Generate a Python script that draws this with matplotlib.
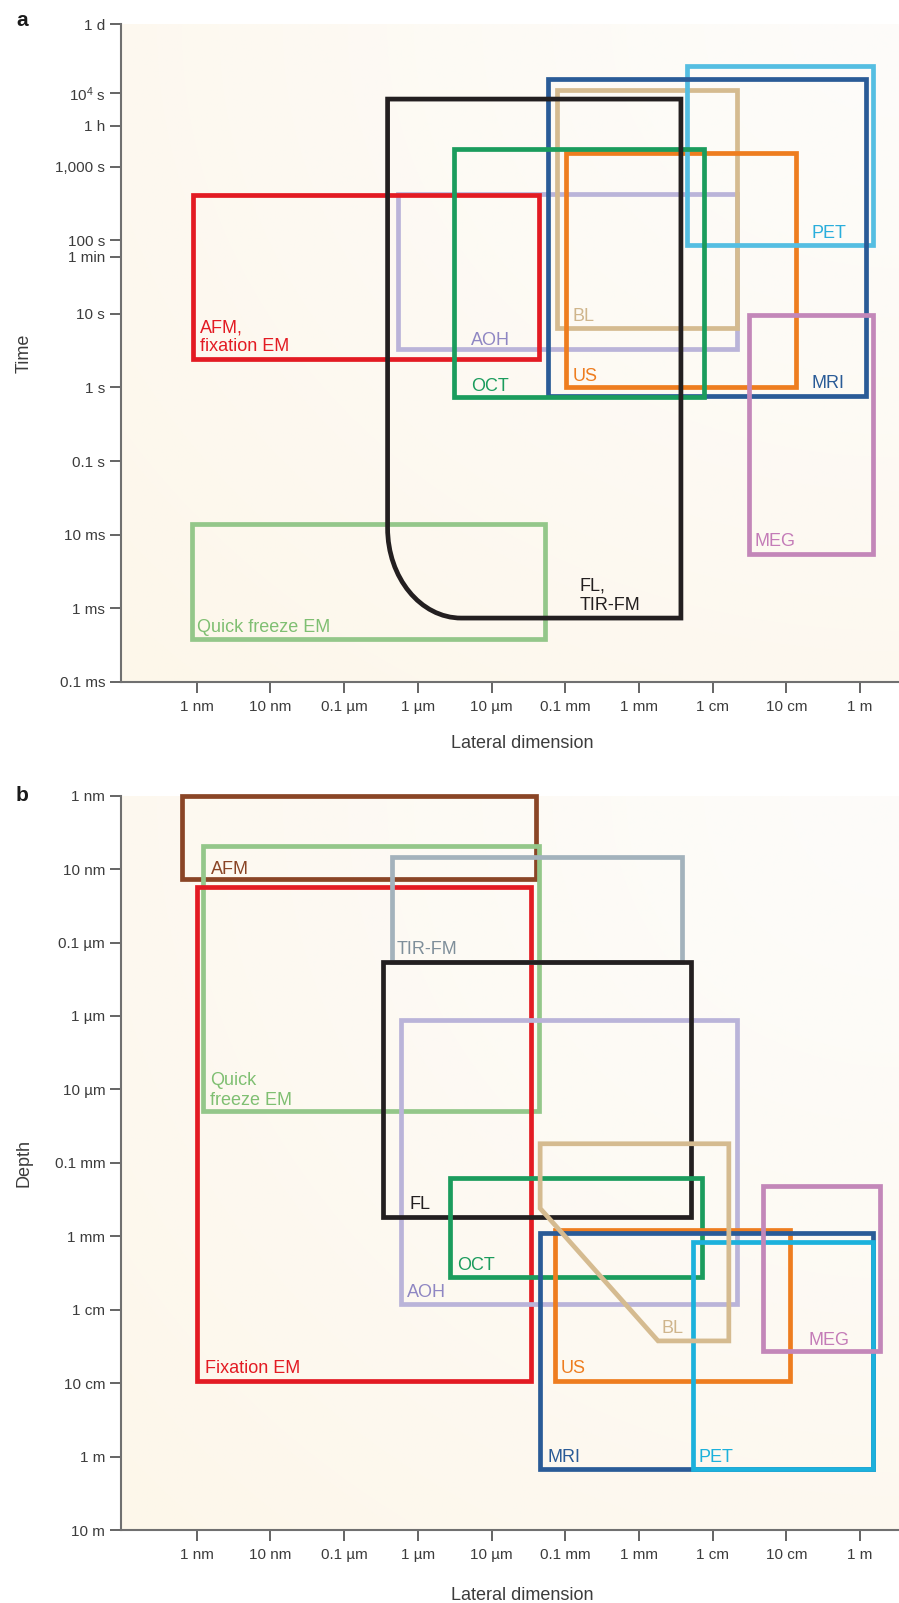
import numpy as np
import matplotlib
matplotlib.use("Agg")
import matplotlib.pyplot as plt
from matplotlib.patches import Rectangle, PathPatch
from matplotlib.path import Path

plt.rcParams['font.family'] = ['Liberation Sans', 'DejaVu Sans']
plt.rcParams['mathtext.fontset'] = 'custom'
plt.rcParams['mathtext.rm'] = 'Liberation Sans'

# ---------------- data (log10 units: metres for size, seconds for time) -------------
x_tick_vals = [-9, -8, -7, -6, -5, -4, -3, -2, -1, 0]
x_tick_labels = ['1 nm', '10 nm', '0.1 µm', '1 µm', '10 µm', '0.1 mm', '1 mm', '1 cm', '10 cm', '1 m']

a_tick_vals = [np.log10(86400), 4, np.log10(3600), 3, 2, np.log10(60), 1, 0, -1, -2, -3, -4]
a_tick_labels = ['1 d', r'$\mathregular{10^4}$ s', '1 h', '1,000 s', '100 s', '1 min', '10 s',
                 '1 s', '0.1 s', '10 ms', '1 ms', '0.1 ms']

b_tick_vals = [-9, -8, -7, -6, -5, -4, -3, -2, -1, 0, 1]
b_tick_labels = ['1 nm', '10 nm', '0.1 µm', '1 µm', '10 µm', '0.1 mm', '1 mm', '1 cm', '10 cm', '1 m', '10 m']

# Panel a: lateral dimension vs time
a_methods = ['AOH', 'AFM, fixation EM', 'Quick freeze EM', 'BL', 'US', 'PET', 'MRI', 'OCT', 'MEG']
a_lat_lo = [-6.27, -9.05, -9.07, -4.11, -3.99, -2.35, -4.23, -5.51, -1.51]
a_lat_hi = [-1.67, -4.36, -4.28, -1.67, -0.87, 0.17, 0.08, -2.12, 0.18]
a_time_lo = [0.52, 0.39, -3.42, 0.81, 0.01, 1.93, -0.12, -0.13, -2.26]
a_time_hi = [2.63, 2.62, -1.86, 4.05, 3.19, 4.37, 4.19, 3.24, 0.98]
a_colors = ['#bab4d9', '#e31b23', '#94c78a', '#d5bb90', '#ee7d1f', '#55bee2', '#2a5b97', '#1b9c5d', '#c387b9']

# FL, TIR-FM in panel a (rounded lower-left corner)
fl_a_lat = [-6.41, -2.43]
fl_a_time = [-3.135, 3.92]
fl_a_knee_lat = -5.41
fl_a_knee_time = -1.91

# Panel b: lateral dimension vs depth
b_methods = ['AFM', 'Quick freeze EM', 'Fixation EM', 'TIR-FM', 'AOH', 'FL', 'OCT', 'US', 'MRI', 'PET', 'MEG']
b_lat_lo = [-9.20, -8.92, -8.99, -6.35, -6.23, -6.47, -5.56, -4.14, -4.34, -2.27, -1.32]
b_lat_hi = [-4.40, -4.35, -4.47, -2.41, -1.67, -2.30, -2.14, -0.95, 0.17, 0.17, 0.27]
b_depth_lo = [-9.00, -8.32, -7.75, -8.16, -5.94, -6.73, -3.80, -3.09, -3.04, -2.92, -3.68]
b_depth_hi = [-7.86, -4.70, -1.03, -6.74, -2.08, -3.26, -2.45, -1.03, 0.17, 0.17, -1.44]
b_colors = ['#8a4526', '#94c78a', '#e31b23', '#a3b2bc', '#bab4d9', '#231f20', '#1b9c5d',
            '#ee7d1f', '#2a5b97', '#1cb1dc', '#c387b9']

# BL in panel b (cut lower-left corner)
bl_b_lat = [-4.34, -1.78]
bl_b_depth = [-4.26, -1.575]
bl_b_cut_lat = -2.74
bl_b_cut_depth = -3.38
bl_b_color = '#d5bb90'

# Labels: (text, lateral, value, colour)
a_labels = [
    ('AFM,', -8.95, 0.75, '#e31b23'), ('fixation EM', -8.95, 0.49, '#e31b23'),
    ('AOH', -5.28, 0.58, '#8f87c3'), ('OCT', -5.27, -0.045, '#1b9c5d'),
    ('BL', -3.90, 0.91, '#cfb58c'), ('US', -3.90, 0.09, '#ee7d1f'),
    ('PET', -0.655, 2.035, '#2aaedc'), ('MRI', -0.655, -0.01, '#2a5b97'),
    ('MEG', -1.43, -2.16, '#c47cb8'), ('Quick freeze EM', -8.99, -3.32, '#7fbf72'),
    ('FL,', -3.80, -2.76, '#231f20'), ('TIR-FM', -3.80, -3.03, '#231f20'),
]
b_labels = [
    ('AFM', -8.81, -7.94, '#8a4526'), ('TIR-FM', -6.29, -6.85, '#7f8f9a'),
    ('Quick', -8.82, -5.06, '#7fbf72'), ('freeze EM', -8.82, -4.79, '#7fbf72'),
    ('FL', -6.11, -3.365, '#231f20'), ('OCT', -5.47, -2.54, '#1b9c5d'),
    ('AOH', -6.145, -2.17, '#8f87c3'), ('BL', -2.70, -1.68, '#cfb58c'),
    ('MEG', -0.70, -1.515, '#c47cb8'), ('US', -4.06, -1.14, '#ee7d1f'),
    ('Fixation EM', -8.89, -1.14, '#e31b23'), ('MRI', -4.24, 0.073, '#2a5b97'),
    ('PET', -2.19, 0.073, '#1cb1dc'),
]

# ---------------- figure ----------------
W, H = 899, 1603
fig = plt.figure(figsize=(W / 100, H / 100), dpi=100)
LW = 3.4

def px_rect(l, t, r, b):
    return [l / W, 1 - b / H, (r - l) / W, (b - t) / H]

axA = fig.add_axes(px_rect(120.5, 24.3, 899, 681.7))
axB = fig.add_axes(px_rect(120.5, 795.7, 899, 1530))

def background(ax):
    n = 200
    u = np.linspace(0, 1, n)
    U, V = np.meshgrid(u, u)
    d = np.sqrt((1 - U) ** 2 + (1 - V) ** 2) / np.sqrt(2)
    d = np.clip(d, 0, 1) ** 1.2
    c_light = np.array([253, 252, 250]) / 255
    c_cream = np.array([253, 247, 234]) / 255
    img = c_light[None, None, :] * (1 - d[..., None]) + c_cream[None, None, :] * d[..., None]
    ax.imshow(img, extent=[0, 1, 0, 1], transform=ax.transAxes, origin='lower',
              aspect='auto', zorder=0, interpolation='bilinear')

def style(ax, yvals, ylabels):
    ax.set_autoscale_on(False)
    for s in ['top', 'right']:
        ax.spines[s].set_visible(False)
    for s in ['left', 'bottom']:
        ax.spines[s].set_color('#707070')
        ax.spines[s].set_linewidth(1.5)
    ax.set_xticks(x_tick_vals)
    ax.set_xticklabels(x_tick_labels)
    ax.set_yticks(yvals)
    ax.set_yticklabels(ylabels)
    ax.tick_params(axis='both', direction='out', length=8, width=1.2, color='#4a4a4a',
                   labelsize=11, labelcolor='#3c3c3c')
    ax.tick_params(axis='x', pad=5)
    ax.tick_params(axis='y', pad=3)
    ax.set_facecolor('none')

# ---- Panel a ----
background(axA)
for lo, hi, tlo, thi, c in zip(a_lat_lo, a_lat_hi, a_time_lo, a_time_hi, a_colors):
    axA.add_patch(Rectangle((lo, tlo), hi - lo, thi - tlo, fill=False, ec=c, lw=LW,
                            joinstyle='miter', clip_on=False, zorder=2))
k = 0.5523
L, R = fl_a_lat
B, T = fl_a_time
verts = [(R, T), (L, T), (L, fl_a_knee_time),
         (L, fl_a_knee_time - k * (fl_a_knee_time - B)),
         (fl_a_knee_lat - k * (fl_a_knee_lat - L), B),
         (fl_a_knee_lat, B), (R, B), (R, T)]
codes = [Path.MOVETO, Path.LINETO, Path.LINETO, Path.CURVE4, Path.CURVE4, Path.CURVE4,
         Path.LINETO, Path.CLOSEPOLY]
axA.add_patch(PathPatch(Path(verts, codes), fill=False, ec='#231f20', lw=LW,
                        joinstyle='miter', clip_on=False, zorder=3))
for s, x, y, c in a_labels:
    axA.text(x, y, s, color=c, fontsize=13, ha='left', va='baseline', zorder=4)
axA.set_xlim(-10.034, 0.529)
axA.set_ylim(-4, np.log10(86400))
style(axA, a_tick_vals, a_tick_labels)

# ---- Panel b ----
background(axB)
for lo, hi, dlo, dhi, c in zip(b_lat_lo, b_lat_hi, b_depth_lo, b_depth_hi, b_colors):
    axB.add_patch(Rectangle((lo, dlo), hi - lo, dhi - dlo, fill=False, ec=c, lw=LW,
                            joinstyle='miter', clip_on=False, zorder=2))
bl_verts = [(bl_b_lat[0], bl_b_depth[0]), (bl_b_lat[1], bl_b_depth[0]),
            (bl_b_lat[1], bl_b_depth[1]), (bl_b_cut_lat, bl_b_depth[1]),
            (bl_b_lat[0], bl_b_cut_depth), (bl_b_lat[0], bl_b_depth[0])]
bl_codes = [Path.MOVETO] + [Path.LINETO] * 4 + [Path.CLOSEPOLY]
axB.add_patch(PathPatch(Path(bl_verts, bl_codes), fill=False, ec=bl_b_color, lw=LW,
                        joinstyle='miter', clip_on=False, zorder=2))
for s, x, y, c in b_labels:
    axB.text(x, y, s, color=c, fontsize=13, ha='left', va='baseline', zorder=4)
axB.set_xlim(-10.034, 0.529)
axB.set_ylim(1, -9)
style(axB, b_tick_vals, b_tick_labels)

# ---- axis titles and panel letters ----
fig.text(521.8 / W, 1 - 743 / H, 'Lateral dimension', fontsize=13, color='#3c3c3c',
         ha='center', va='center')
fig.text(521.8 / W, 1 - 1595 / H, 'Lateral dimension', fontsize=13, color='#3c3c3c',
         ha='center', va='center')
fig.text(24 / W, 1 - 353 / H, 'Time', fontsize=13, color='#3c3c3c', rotation=90,
         ha='center', va='center')
fig.text(24 / W, 1 - 1163 / H, 'Depth', fontsize=13, color='#3c3c3c', rotation=90,
         ha='center', va='center')
fig.text(22 / W, 1 - 21 / H, 'a', fontsize=15, fontweight='bold', color='#1a1a1a',
         ha='center', va='center')
fig.text(22 / W, 1 - 795 / H, 'b', fontsize=15, fontweight='bold', color='#1a1a1a',
         ha='center', va='center')

fig.savefig('out.png', dpi=100, facecolor='white')
